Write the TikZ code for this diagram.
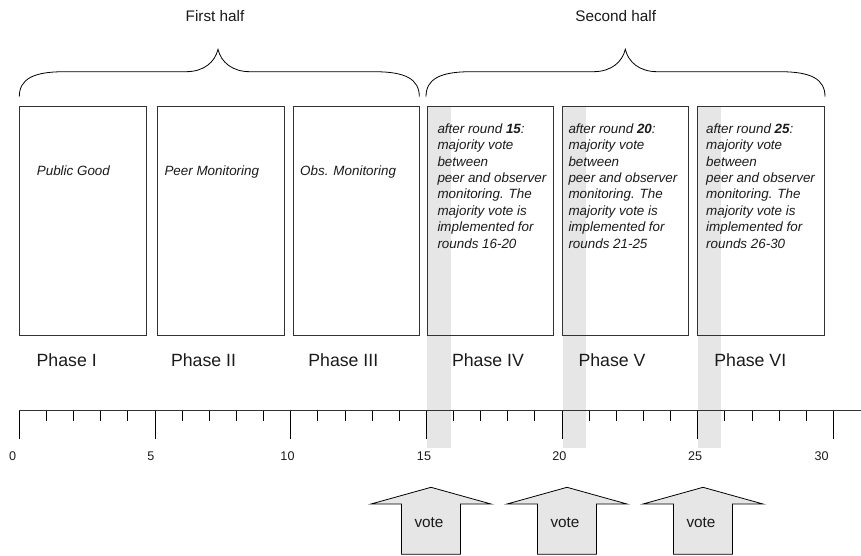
\documentclass[tikz,border=0pt]{standalone}
\usepackage{fontspec}
\setmainfont{Liberation Sans}
\usepackage{tikz}

\definecolor{bandgrey}{HTML}{E6E6E6}
\definecolor{linegrey}{HTML}{333333}
\definecolor{textgrey}{HTML}{1A1A1A}

\begin{document}
\begin{tikzpicture}[x=1pt,y=-1pt,
	phasebox/.style={draw=linegrey, line width=0.9pt, minimum width=126.7pt, minimum height=229pt, inner sep=0pt, anchor=north west},
	boxtext/.style={font=\fontsize{13.4}{16.4}\selectfont\itshape, text=textgrey, inner sep=0pt},
	phaselabel/.style={font=\fontsize{17.7}{20}\selectfont, text=textgrey, inner sep=0pt, anchor=base},
	halflabel/.style={font=\fontsize{15.3}{18}\selectfont, text=textgrey, inner sep=0pt, anchor=base},
	ticklabel/.style={font=\fontsize{12.6}{14}\selectfont, text=textgrey, inner sep=0pt, anchor=base},
	votearrow/.style={draw=black, line width=0.8pt, fill=bandgrey},
	bracepath/.style={draw=black, line width=0.8pt}]
	\useasboundingbox (0,0) rectangle (861,556);

	% grey bands at the vote rounds
	\foreach \x in {427.3, 562.7, 698} {
		\fill[bandgrey] (\x,106) rectangle (\x+23.4,448.3);
	}

	\foreach \x/\n in {19.3/1, 157.3/2, 292.7/3, 426.7/4, 561.7/5, 697.3/6} {
		\node[phasebox] (box\n) at (\x,106) {};
	}

	% braces
	\foreach \a/\t/\b in {19.3/218/419.3, 426/625.3/825} {
		\draw[bracepath] (\a,96.7) .. controls (\a,79) and (\a+14,71.7) .. (\a+45,71.7)
			-- (\t-32,71.7) .. controls (\t-14,71.7) and (\t-3,62) .. (\t,49.3)
			.. controls (\t+3,62) and (\t+14,71.7) .. (\t+32,71.7)
			-- (\b-45,71.7) .. controls (\b-14,71.7) and (\b,79) .. (\b,96.7);
	}
	\node[halflabel] (first) at (215,21.2) {First half};
	\node[halflabel] (second) at (615.7,21.2) {Second half};

	\node[boxtext, anchor=base west] (pg) at (36.7,175.5) {Public Good};
	\node[boxtext, anchor=base west] (pm) at (164.3,175.5) {Peer Monitoring};
	\node[boxtext, anchor=base west] (om) at (300,175.5) {Obs. Monitoring};

	\foreach \x/\r/\a/\b/\n in {437.3/15/16/20/4, 568.3/20/21/25/5, 706/25/26/30/6} {
		\node[boxtext, anchor=north west, align=left] (vote\n) at (\x,123.3)
			{after round \textbf{\r}:\\majority vote\\between\\peer and observer\\monitoring. The\\majority vote is\\implemented for\\rounds \a-\b};
	}

	\foreach \x/\p in {66.7/I, 203.5/II, 343.3/III, 488/IV, 612/V, 750.3/VI} {
		\node[phaselabel] (ph\p) at (\x,366.4) {Phase \p};
	}

	% time line
	\draw[line width=1.2pt, draw=linegrey] (19.3,410.7) -- (861,410.7);
	\foreach \i in {0,...,30} {
		\pgfmathsetmacro\len{mod(\i,5)==0 ? 439.3 : 420.7}
		\draw[line width=0.8pt] (19.3+\i*27.133,410.7) -- (19.3+\i*27.133,\len);
	}
	\foreach \x/\t in {12.7/0, 151/5, 287.5/10, 424/15, 559.3/20, 695/25, 821.7/30} {
		\node[ticklabel] (r\t) at (\x,460.2) {\t};
	}

	% vote arrows
	\foreach \x/\n in {431/a, 567/b, 703/c} {
		\draw[votearrow] (\x,487.3) -- (\x+60,504) -- (\x+29.5,504) -- (\x+29.5,554.3)
			-- (\x-29.5,554.3) -- (\x-29.5,504) -- (\x-60,504) -- cycle;
		\node[halflabel] (arrow\n) at (\x-2,527) {vote};
	}
\end{tikzpicture}
\end{document}
